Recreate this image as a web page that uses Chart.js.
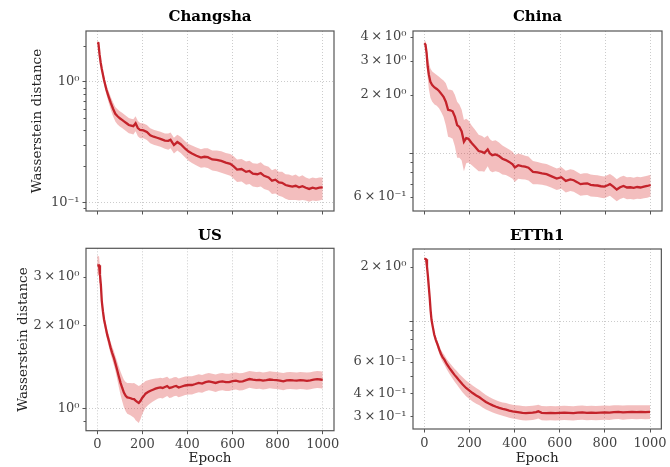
<!DOCTYPE html>
<html><head><meta charset="utf-8">
<script src="https://cdn.jsdelivr.net/npm/chart.js@4.4.1/dist/chart.umd.min.js"></script>
<style>
html,body{margin:0;padding:0;background:#fff;}
#wrap{position:relative;width:670px;height:467px;background:#fff;}
canvas{position:absolute;left:0;top:0;}
</style></head><body><div id="wrap">
<canvas id="c0" width="670" height="467"></canvas>
<canvas id="c1" width="670" height="467"></canvas>
<canvas id="c2" width="670" height="467"></canvas>
<canvas id="c3" width="670" height="467"></canvas>
</div>
<script>
// ---------- data ----------
const epochTicks = [0, 200, 400, 600, 800, 1000];

const changshaEpochs = [0,5,10,15,20,30,40,50,60,70,80,90,100,110,120,130,140,150,160,170,180,190,205,220,235,250,265,280,300,315,325,340,355,370,390,405,420,440,460,475,490,510,530,550,570,590,605,620,640,660,675,690,710,725,740,760,775,790,805,820,835,850,865,880,895,910,925,940,955,970,985,1000];
const changshaMean = [2.12,2.10,1.70,1.45,1.28,1.04,0.87,0.76,0.67,0.60,0.545,0.52,0.50,0.485,0.47,0.455,0.44,0.435,0.43,0.455,0.415,0.40,0.397,0.385,0.362,0.352,0.345,0.338,0.327,0.325,0.332,0.300,0.318,0.305,0.280,0.265,0.255,0.245,0.236,0.240,0.238,0.228,0.226,0.222,0.215,0.210,0.200,0.188,0.190,0.180,0.183,0.174,0.172,0.176,0.167,0.162,0.152,0.155,0.147,0.146,0.140,0.138,0.136,0.138,0.134,0.137,0.133,0.130,0.133,0.131,0.133,0.134];
const changshaStd = [0.03,0.04,0.05,0.06,0.07,0.08,0.08,0.08,0.08,0.08,0.075,0.075,0.072,0.07,0.068,0.066,0.064,0.062,0.062,0.065,0.06,0.058,0.056,0.055,0.052,0.05,0.049,0.048,0.047,0.05,0.05,0.045,0.048,0.047,0.043,0.042,0.042,0.042,0.041,0.043,0.044,0.043,0.044,0.045,0.043,0.043,0.042,0.040,0.040,0.039,0.040,0.038,0.038,0.040,0.037,0.036,0.034,0.036,0.033,0.034,0.032,0.033,0.031,0.033,0.030,0.032,0.029,0.028,0.029,0.028,0.029,0.028];

const chinaEpochs = [0,5,10,15,20,27,35,45,55,65,75,85,95,105,115,125,135,145,155,165,175,185,195,210,225,240,255,265,280,290,300,315,330,345,360,375,390,400,415,430,445,460,480,500,520,540,560,585,605,625,645,660,675,690,705,720,735,750,765,780,795,810,820,835,850,865,880,895,910,925,940,955,970,985,1000];
const chinaMean = [3.70,3.65,3.30,2.80,2.55,2.34,2.25,2.19,2.15,2.10,2.03,1.96,1.85,1.68,1.67,1.65,1.55,1.40,1.37,1.30,1.15,1.20,1.19,1.13,1.08,1.03,1.02,1.005,1.05,1.00,0.98,0.99,0.97,0.94,0.925,0.905,0.88,0.848,0.87,0.862,0.855,0.845,0.805,0.80,0.79,0.782,0.765,0.743,0.755,0.722,0.735,0.728,0.712,0.695,0.70,0.702,0.69,0.686,0.684,0.678,0.675,0.686,0.695,0.675,0.652,0.670,0.680,0.668,0.670,0.665,0.672,0.668,0.675,0.680,0.688];
const chinaStd = [0.12,0.15,0.25,0.35,0.40,0.40,0.40,0.40,0.39,0.39,0.40,0.42,0.45,0.46,0.46,0.46,0.46,0.45,0.42,0.38,0.34,0.31,0.29,0.26,0.24,0.22,0.21,0.20,0.19,0.185,0.18,0.18,0.17,0.16,0.15,0.145,0.14,0.135,0.13,0.125,0.12,0.12,0.11,0.105,0.10,0.10,0.098,0.095,0.097,0.093,0.094,0.093,0.092,0.09,0.09,0.09,0.089,0.088,0.088,0.087,0.087,0.088,0.09,0.088,0.085,0.087,0.088,0.087,0.087,0.086,0.087,0.086,0.087,0.088,0.088];

const usEpochs = [0,8,12,16,20,25,30,37,44,52,59,66,74,81,88,95,103,110,118,126,133,145,155,163,170,177,184,192,199,207,214,225,236,247,258,270,280,290,300,310,320,330,340,350,361,375,390,405,420,435,450,465,480,495,510,525,540,555,570,585,600,615,630,645,660,675,690,705,720,735,750,765,780,795,810,825,840,855,870,885,900,915,930,945,960,975,990,1000];
const usMean = [3.30,3.30,3.05,2.80,2.45,2.25,2.10,1.97,1.85,1.75,1.66,1.59,1.52,1.45,1.38,1.31,1.24,1.19,1.14,1.11,1.096,1.09,1.083,1.08,1.066,1.055,1.045,1.065,1.09,1.11,1.13,1.145,1.158,1.168,1.178,1.185,1.19,1.185,1.195,1.205,1.185,1.19,1.20,1.205,1.19,1.20,1.21,1.215,1.215,1.225,1.236,1.23,1.245,1.253,1.245,1.236,1.248,1.253,1.245,1.245,1.255,1.26,1.25,1.253,1.265,1.277,1.27,1.265,1.268,1.26,1.265,1.272,1.268,1.265,1.26,1.252,1.262,1.265,1.262,1.26,1.265,1.262,1.258,1.262,1.27,1.275,1.272,1.268];
const usStd = [0.28,0.25,0.20,0.15,0.12,0.10,0.09,0.085,0.085,0.085,0.085,0.085,0.09,0.09,0.10,0.11,0.12,0.125,0.13,0.135,0.14,0.145,0.15,0.155,0.16,0.16,0.16,0.15,0.14,0.13,0.125,0.12,0.115,0.11,0.105,0.10,0.10,0.10,0.098,0.097,0.096,0.095,0.095,0.095,0.094,0.094,0.093,0.093,0.092,0.092,0.092,0.091,0.091,0.091,0.09,0.09,0.09,0.09,0.09,0.09,0.09,0.09,0.09,0.09,0.09,0.09,0.09,0.09,0.09,0.09,0.09,0.09,0.09,0.09,0.09,0.09,0.09,0.09,0.09,0.09,0.09,0.09,0.09,0.09,0.09,0.09,0.09,0.09];

const etthEpochs = [0,8,12,16,20,24,28,32,37,44,51,59,66,74,81,89,100,111,122,133,144,155,170,185,200,214,230,244,258,273,288,303,318,332,347,362,376,391,406,421,435,450,465,480,495,505,520,540,560,580,600,620,640,660,680,700,720,740,760,780,800,820,840,860,880,900,920,940,960,980,1000];
const etthMean = [2.22,2.20,2.00,1.78,1.55,1.35,1.15,1.02,0.94,0.845,0.79,0.743,0.70,0.66,0.635,0.614,0.58,0.553,0.53,0.508,0.49,0.471,0.448,0.429,0.415,0.402,0.39,0.381,0.37,0.359,0.351,0.344,0.338,0.333,0.329,0.326,0.322,0.319,0.317,0.315,0.313,0.312,0.313,0.314,0.316,0.319,0.313,0.312,0.313,0.312,0.313,0.314,0.313,0.312,0.314,0.315,0.313,0.314,0.313,0.314,0.315,0.314,0.316,0.317,0.315,0.316,0.317,0.316,0.317,0.316,0.317];
const etthStd = [0.03,0.03,0.03,0.03,0.03,0.03,0.03,0.03,0.03,0.03,0.032,0.034,0.035,0.036,0.037,0.038,0.038,0.039,0.04,0.041,0.042,0.042,0.043,0.043,0.042,0.041,0.039,0.037,0.035,0.033,0.031,0.03,0.029,0.028,0.028,0.028,0.028,0.028,0.028,0.028,0.028,0.028,0.028,0.028,0.028,0.028,0.028,0.028,0.028,0.028,0.028,0.028,0.028,0.028,0.028,0.028,0.028,0.028,0.028,0.028,0.028,0.028,0.028,0.028,0.028,0.028,0.028,0.028,0.028,0.028,0.028];

const changshaYTicks = [0.09,0.1,0.2,0.3,0.4,0.5,0.6,0.7,0.8,0.9,1,2];
const changshaYLabels = ['','10⁻¹','','','','','','','','','10⁰',''];
const chinaYTicks = [0.6,0.7,0.8,0.9,1,2,3,4];
const chinaYLabels = ['6\u2009×\u200910⁻¹','','','','','2\u2009×\u200910⁰','3\u2009×\u200910⁰','4\u2009×\u200910⁰'];
const usYTicks = [0.9,1,2,3];
const usYLabels = ['','10⁰','2\u2009×\u200910⁰','3\u2009×\u200910⁰'];
const etthYTicks = [0.3,0.4,0.5,0.6,0.7,0.8,0.9,1,2];
const etthYLabels = ['3\u2009×\u200910⁻¹','4\u2009×\u200910⁻¹','','6\u2009×\u200910⁻¹','','','','','2\u2009×\u200910⁰'];

// ---------- style ----------
const SERIF = "'DejaVu Serif', serif";
const LINE = '#c4232b';
const BAND = 'rgba(214,39,40,0.3)';
const GRIDC = 'rgba(170,170,170,0.75)';
const AXC = '#555555';
const TICKC = '#444444';
const LABC = '#222222';
const FIGW = 670, FIGH = 467;

const framePlugin = {
  id: 'frame',
  afterDatasetsDraw(chart) {
    const {ctx, chartArea: a} = chart;
    const ys = chart.scales.y;
    ctx.save();
    ctx.strokeStyle = AXC;
    ctx.lineWidth = 1;
    ctx.beginPath();
    ys.ticks.forEach(t => {
      if (!t.dec) {
        const y = Math.round(ys.getPixelForValue(t.value)) + 0.5;
        ctx.moveTo(a.left - 2.5, y); ctx.lineTo(a.left, y);
      }
    });
    ctx.stroke();
    ctx.lineWidth = 1.2;
    ctx.strokeRect(a.left, a.top, a.right - a.left, a.bottom - a.top);
    ctx.restore();
  }
};

function makePanel(id, p) {
  const pts = arr => p.epochs.map((e, i) => ({x: e, y: arr[i]}));
  const upper = p.mean.map((m, i) => m + p.std[i]);
  const lower = p.mean.map((m, i) => m - p.std[i]);
  const yW = p.yW;
  const xH = FIGH - p.B - p.padB;
  return new Chart(document.getElementById(id), {
    type: 'line',
    data: {datasets: [
      {data: pts(p.mean), borderColor: LINE, borderWidth: 2.3, pointRadius: 0, fill: false, tension: 0},
      {data: pts(upper), borderColor: 'rgba(0,0,0,0)', borderWidth: 0, pointRadius: 0, fill: '+1', backgroundColor: BAND},
      {data: pts(lower), borderColor: 'rgba(0,0,0,0)', borderWidth: 0, pointRadius: 0, fill: false}
    ]},
    options: {
      responsive: false, animation: false, devicePixelRatio: 1,
      events: [],
      layout: {padding: {left: p.L - yW, right: FIGW - p.R, top: p.titleTop, bottom: p.padB}},
      plugins: {
        legend: {display: false}, tooltip: {enabled: false},
        title: {display: true, text: p.title, fullSize: false, color: '#000',
          font: {family: SERIF, size: 15, weight: 'bold', lineHeight: 1.2},
          padding: {top: 0, bottom: p.T - p.titleTop - 18}}
      },
      scales: {
        x: {
          type: 'linear', min: -50, max: 1050,
          afterBuildTicks: s => { s.ticks = epochTicks.map(v => ({value: v})); },
          afterFit: s => { s.height = xH; },
          ticks: {display: p.showX, color: TICKC, font: {family: SERIF, size: 13}, padding: 3, autoSkip: false, maxRotation: 0,
            callback: v => String(v)},
          grid: {color: GRIDC, lineWidth: 0.8, tickLength: 3.5, tickColor: AXC, tickWidth: 1},
          border: {display: false, dash: [1, 2]},
          title: {display: p.showX, text: 'Epoch', color: LABC, font: {family: SERIF, size: 13.5, lineHeight: 1.2}, padding: {top: 0, bottom: 0}}
        },
        y: {
          type: 'logarithmic', min: p.yMin, max: p.yMax,
          afterBuildTicks: s => { s.ticks = p.yTicks.map((v, i) => ({value: v, lab: p.yLabels[i], dec: Math.abs(Math.log10(v) - Math.round(Math.log10(v))) < 1e-9})); },
          afterFit: s => { s.width = yW; },
          ticks: {color: TICKC, font: {family: SERIF, size: 13}, padding: 3, autoSkip: false,
            callback: (v, i, t) => t[i].lab},
          grid: {color: c => (c.tick && c.tick.dec) ? GRIDC : 'rgba(0,0,0,0)', lineWidth: 0.8, tickLength: 3.5,
            tickColor: c => (c.tick && c.tick.dec) ? AXC : 'rgba(0,0,0,0)', tickWidth: 1},
          border: {display: false, dash: [1, 2]},
          title: {display: p.showY, text: 'Wasserstein distance', color: LABC, font: {family: SERIF, size: 13.5, lineHeight: 1.2}, padding: {top: 0, bottom: 0}}
        }
      }
    },
    plugins: [framePlugin]
  });
}

makePanel('c0', {title: 'Changsha', epochs: changshaEpochs, mean: changshaMean, std: changshaStd,
  yTicks: changshaYTicks, yLabels: changshaYLabels, yMin: 0.0853, yMax: 2.645,
  L: 86, R: 334, T: 31, B: 211, titleTop: 8.5, padB: 246, yW: 56.9, showX: false, showY: true});
makePanel('c1', {title: 'China', epochs: chinaEpochs, mean: chinaMean, std: chinaStd,
  yTicks: chinaYTicks, yLabels: chinaYLabels, yMin: 0.5054, yMax: 4.28,
  L: 413, R: 662, T: 31, B: 211, titleTop: 8.5, padB: 246, yW: 70, showX: false, showY: false});
makePanel('c2', {title: 'US', epochs: usEpochs, mean: usMean, std: usStd,
  yTicks: usYTicks, yLabels: usYLabels, yMin: 0.8295, yMax: 3.805,
  L: 86, R: 334, T: 248.3, B: 430.7, titleTop: 227.5, padB: 0, yW: 70.3, showX: true, showY: true});
makePanel('c3', {title: 'ETTh1', epochs: etthEpochs, mean: etthMean, std: etthStd,
  yTicks: etthYTicks, yLabels: etthYLabels, yMin: 0.2548, yMax: 2.504,
  L: 413, R: 662, T: 249, B: 429, titleTop: 227.5, padB: 0, yW: 70, showX: true, showY: false});
</script>
</body></html>
